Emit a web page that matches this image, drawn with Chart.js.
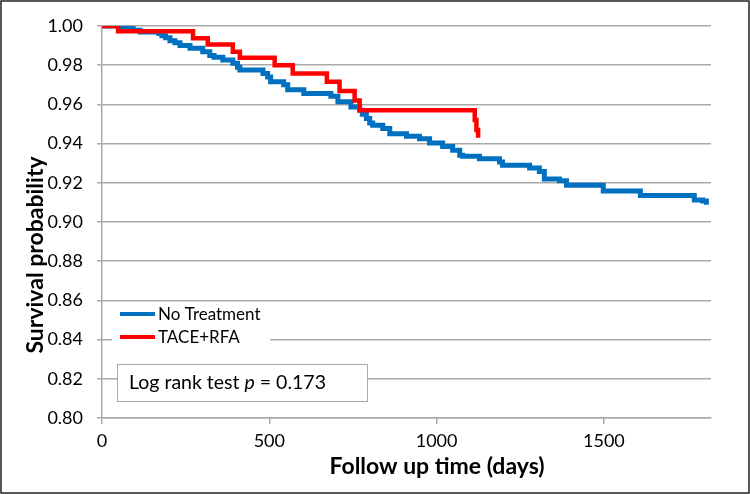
<!DOCTYPE html>
<html>
<head>
<meta charset="utf-8">
<script src="https://cdn.jsdelivr.net/npm/chart.js@4"></script>
<style>
  html, body { margin: 0; padding: 0; background: #fff; }
  #wrap { width: 750px; height: 494px; }
</style>
</head>
<body>
<div id="wrap"><canvas id="km" width="750" height="494"></canvas></div>
<script>
// Kaplan-Meier curves (day of event, survival after it)
const seriesNames = ['No Treatment', 'TACE+RFA'];

const noTreatDays = [0, 62, 93, 114, 170, 179, 190, 203, 218, 233, 263, 301, 322, 335, 361, 391, 405, 412,
  481, 495, 504, 543, 555, 603, 684, 705, 744, 770, 778, 790, 800, 809, 839, 860, 910, 949, 979, 1018,
  1048, 1069, 1078, 1128, 1188, 1197, 1278, 1307, 1322, 1367, 1388, 1498, 1609, 1770, 1795, 1806];
const noTreatSurv = [1.000, 0.9990, 0.9978, 0.9970, 0.9962, 0.9950, 0.9940, 0.9925, 0.9915, 0.9900, 0.9886,
  0.9869, 0.9850, 0.9840, 0.9826, 0.9810, 0.9790, 0.9775, 0.9758, 0.9740, 0.9715, 0.9700, 0.9675, 0.9656,
  0.9642, 0.9613, 0.9587, 0.9570, 0.9550, 0.9528, 0.9505, 0.9494, 0.9477, 0.9450, 0.9437, 0.9425, 0.9403,
  0.9385, 0.9366, 0.9340, 0.9335, 0.9323, 0.9306, 0.9290, 0.9275, 0.9258, 0.9220, 0.9210, 0.9187, 0.9158,
  0.9135, 0.9112, 0.9107, 0.9088];

const taceDays = [0, 48, 272, 316, 391, 412, 516, 570, 672, 710, 755, 770, 1110, 1114, 1119, 1124];
const taceSurv = [1.000, 0.9973, 0.9937, 0.9906, 0.9869, 0.9838, 0.9800, 0.9758, 0.9715, 0.9668, 0.9620,
  0.9570, 0.9570, 0.9520, 0.9470, 0.9430];

const xTicks = [0, 500, 1000, 1500];
const yTicks = [0.80, 0.82, 0.84, 0.86, 0.88, 0.90, 0.92, 0.94, 0.96, 0.98, 1.00];
const xMax = 1820;
const pLabel = ['Log rank test ', 'p', ' = 0.173'];

const gridGrey = '#a9a9a9';
const fontFam = 'Lato, "Open Sans", sans-serif';

function toPoints(xs, ys) {
  return xs.map((x, i) => ({ x: x, y: ys[i] }));
}

// white background, legend, p-value box, titles and frame
const decor = {
  id: 'decor',
  beforeDraw(chart) {
    const ctx = chart.ctx;
    ctx.save();
    ctx.fillStyle = '#fff';
    ctx.fillRect(0, 0, chart.width, chart.height);
    ctx.restore();
  },
  afterDatasetsDraw(chart) {
    const ctx = chart.ctx;
    ctx.save();
    // legend
    ctx.fillStyle = '#fff';
    ctx.fillRect(112, 304, 158, 46);
    const cols = ['#0070c0', '#ff0000'];
    const ys = [314, 337];
    ctx.font = '17px ' + fontFam;
    ctx.textBaseline = 'middle';
    seriesNames.forEach((name, i) => {
      ctx.strokeStyle = cols[i];
      ctx.lineWidth = 4;
      ctx.beginPath();
      ctx.moveTo(120, ys[i]);
      ctx.lineTo(155, ys[i]);
      ctx.stroke();
      ctx.fillStyle = '#000';
      ctx.fillText(name, 158, ys[i] + 1);
    });
    // p value box
    ctx.fillStyle = '#fff';
    ctx.fillRect(117, 364, 250, 37);
    ctx.strokeStyle = gridGrey;
    ctx.lineWidth = 1;
    ctx.strokeRect(117.5, 364.5, 250, 37);
    ctx.fillStyle = '#000';
    let x = 129;
    pLabel.forEach((part, i) => {
      ctx.font = (i === 1 ? 'italic ' : '') + '19.5px ' + fontFam;
      ctx.fillText(part, x, 383);
      x += ctx.measureText(part).width;
    });
    ctx.restore();
  },
  afterDraw(chart) {
    const ctx = chart.ctx;
    ctx.save();
    ctx.fillStyle = '#000';
    ctx.font = 'bold 23px ' + fontFam;
    ctx.textAlign = 'center';
    ctx.textBaseline = 'middle';
    ctx.fillText('Follow up time (days)', 437, 467);
    ctx.translate(36, 255);
    ctx.rotate(-Math.PI / 2);
    ctx.fillText('Survival probability', 0, 0);
    ctx.restore();
    ctx.save();
    ctx.strokeStyle = '#222';
    ctx.lineWidth = 1.5;
    ctx.strokeRect(1, 1, chart.width - 2, chart.height - 2);
    ctx.restore();
  }
};

new Chart(document.getElementById('km'), {
  type: 'line',
  data: {
    datasets: [
      {
        label: seriesNames[0],
        data: toPoints(noTreatDays, noTreatSurv),
        borderColor: '#0070c0',
        borderWidth: 5,
        stepped: 'before',
        pointRadius: 0,
        fill: false,
        order: 2
      },
      {
        label: seriesNames[1],
        data: toPoints(taceDays, taceSurv),
        borderColor: '#ff0000',
        borderWidth: 4.5,
        stepped: 'before',
        pointRadius: 0,
        fill: false,
        order: 1
      }
    ]
  },
  options: {
    responsive: false,
    animation: false,
    devicePixelRatio: 1,
    layout: { padding: { left: 0, top: 26, right: 39, bottom: 0 } },
    plugins: {
      legend: { display: false },
      tooltip: { enabled: false }
    },
    scales: {
      x: {
        type: 'linear',
        min: 0,
        max: xMax,
        afterBuildTicks: (s) => { s.ticks = xTicks.map(v => ({ value: v })); },
        afterFit: (s) => { s.height = 76; },
        ticks: {
          color: '#000',
          font: { family: fontFam, size: 18 },
          padding: 6,
          maxRotation: 0,
          callback: (v) => String(v)
        },
        grid: { drawOnChartArea: false, drawTicks: true, tickLength: 6, color: gridGrey, lineWidth: 1.5 },
        border: { color: gridGrey, width: 1.5 }
      },
      y: {
        type: 'linear',
        min: 0.80,
        max: 1.00,
        afterBuildTicks: (s) => { s.ticks = yTicks.map(v => ({ value: v })); },
        afterFit: (s) => { s.width = 102; },
        ticks: {
          color: '#000',
          font: { family: fontFam, size: 18 },
          padding: 14,
          callback: (v) => Number(v).toFixed(2)
        },
        grid: { color: gridGrey, lineWidth: 1.5, tickLength: 5 },
        border: { color: gridGrey, width: 1.5 }
      }
    }
  },
  plugins: [decor]
});
</script>
</body>
</html>
